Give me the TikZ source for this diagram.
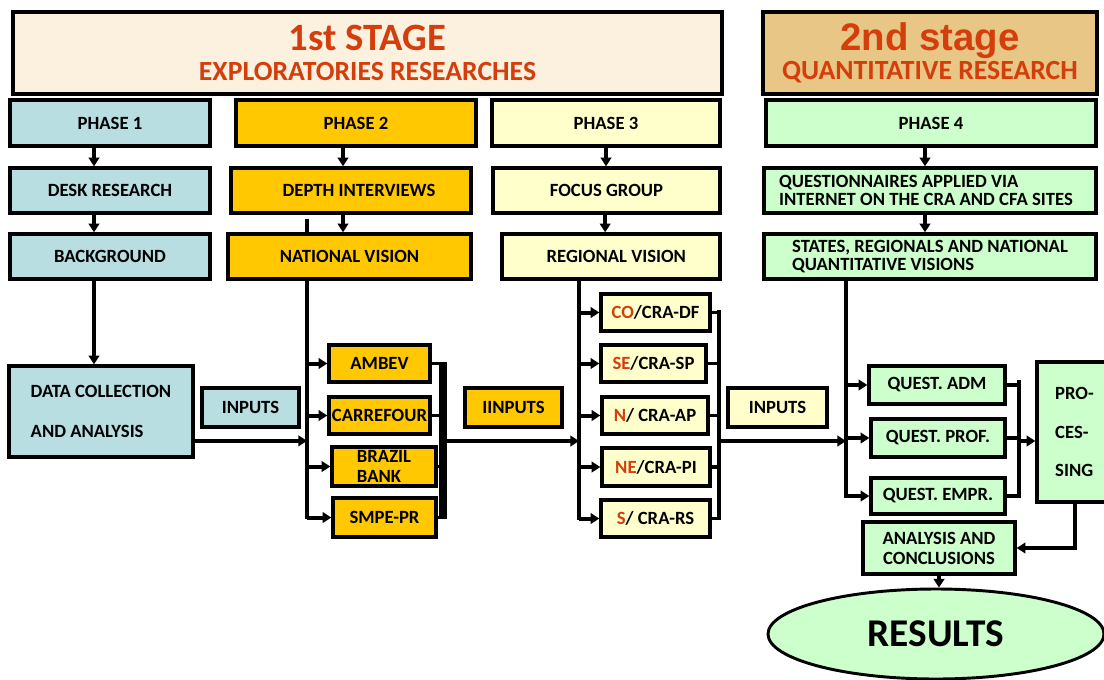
\documentclass[tikz,border=0pt]{standalone}
\usepackage{fontspec}
\setmainfont{Carlito}
\newfontfamily\arialfont{Liberation Sans}
\usetikzlibrary{positioning,arrows.meta,shapes.geometric,backgrounds}

\definecolor{phaseblue}{RGB}{184,222,226}
\definecolor{phaseorange}{RGB}{255,200,0}
\definecolor{phaseyellow}{RGB}{255,255,204}
\definecolor{phasegreen}{RGB}{204,255,204}
\definecolor{stagecream}{RGB}{252,241,222}
\definecolor{stagetan}{RGB}{232,198,134}
\definecolor{titlered}{RGB}{212,62,12}

\tikzset{
  box/.style={draw, line width=2.6pt, inner sep=2pt, align=center,
    font=\bfseries\fontsize{14}{15}\selectfont},
  stagebox/.style={draw, line width=3pt, align=center, text=titlered,
    font=\bfseries\fontsize{20.8}{22}\selectfont},
  link/.style={line width=3pt},
  thinlink/.style={line width=2.6pt},
  arr/.style={link, -{Triangle[length=6.5pt,width=8pt]}},
}

\begin{document}
\begin{tikzpicture}[x=0.75pt, y=-0.75pt]
  \useasboundingbox (0,0) rectangle (1104,679);

  % stages
  \node[stagebox, fill=stagecream, minimum width=531.75pt, minimum height=61.5pt] (st1) at (367.5,53)
    {{\fontsize{29}{22}\selectfont 1st STAGE}\\EXPLORATORIES RESEARCHES};
  \node[stagebox, fill=stagetan, minimum width=250.5pt, minimum height=61.5pt] (st2) at (930,53)
    {{\arialfont\fontsize{28.8}{22}\selectfont 2nd stage}\\QUANTITATIVE RESEARCH};

  % phases
  \node[box, fill=phaseblue,   minimum width=150pt,   minimum height=34.5pt] (ph1) at (110,123) {PHASE 1};
  \node[box, fill=phaseorange, minimum width=180pt,   minimum height=34.5pt] (ph2) at (356,123) {PHASE 2};
  \node[box, fill=phaseyellow, minimum width=171pt,   minimum height=34.5pt] (ph3) at (606,123) {PHASE 3};
  \node[box, fill=phasegreen,  minimum width=247.5pt, minimum height=34.5pt] (ph4) at (931,123) {PHASE 4};

  \node[box, fill=phaseblue,   minimum width=150pt,    minimum height=33.75pt] (desk) at (110,190.5) {DESK RESEARCH};
  \node[box, fill=phaseorange, minimum width=180pt,    minimum height=33.75pt] (depth) at (351,190.5) {\hspace*{12pt}DEPTH INTERVIEWS};
  \node[box, fill=phaseyellow, minimum width=170.25pt, minimum height=33.75pt] (focus) at (606.5,190.5) {FOCUS GROUP};
  \node[box, fill=phasegreen,  minimum width=249pt,    minimum height=33.75pt, align=left,
    font=\bfseries\fontsize{14}{13}\selectfont] (quest) at (930,190.5)
    {QUESTIONNAIRES APPLIED VIA\\INTERNET ON THE CRA AND CFA SITES\hspace*{6pt}};

  \node[box, fill=phaseblue,   minimum width=150pt,    minimum height=33.75pt] (backg) at (110,256.5) {BACKGROUND};
  \node[box, fill=phaseorange, minimum width=182.25pt, minimum height=33.75pt] (natvis) at (349.5,256.5) {NATIONAL VISION};
  \node[box, fill=phaseyellow, minimum width=163.5pt,  minimum height=33.75pt] (regvis) at (611,256.5) {\hspace*{8pt}REGIONAL VISION};
  \node[box, fill=phasegreen,  minimum width=249pt,    minimum height=33.75pt, align=left,
    font=\bfseries\fontsize{14}{13.5}\selectfont] (states) at (930,256.5)
    {STATES, REGIONALS AND NATIONAL\\QUANTITATIVE VISIONS};

  % phase 1
  \node[box, fill=phaseblue, minimum width=138pt, minimum height=68.25pt, align=left,
    font=\bfseries\fontsize{14}{30}\selectfont] (dc) at (101,411.5) {DATA COLLECTION\\AND ANALYSIS};
  \node[box, fill=phaseblue, minimum width=72.75pt, minimum height=29.25pt] (in1) at (250.5,407.5) {INPUTS};

  % phase 2
  \node[box, fill=phaseorange, minimum width=75.75pt, minimum height=27.75pt] (ambev) at (379.5,363.5) {AMBEV};
  \node[box, fill=phaseorange, minimum width=75.75pt, minimum height=27.75pt, inner sep=0pt] (carref) at (379.5,415.5) {CARREFOUR};
  \node[box, fill=phaseorange, minimum width=78pt, minimum height=29.25pt, align=left, inner sep=0pt] (brazil) at (384,466.5) {BRAZIL\\BANK};
  \node[box, fill=phaseorange, minimum width=77.25pt, minimum height=29.25pt] (smpe) at (384.5,517.5) {SMPE-PR};
  \node[box, fill=phaseorange, minimum width=72.75pt, minimum height=29.25pt] (in2) at (513.5,407.5) {IINPUTS};

  % phase 3
  \node[box, fill=phaseyellow, minimum width=81.75pt, minimum height=27.75pt] (co) at (655.5,312.5) {\textcolor{titlered}{CO}/CRA-DF};
  \node[box, fill=phaseyellow, minimum width=78.75pt, minimum height=27.75pt] (se) at (653.5,363.5) {\textcolor{titlered}{SE}/CRA-SP};
  \node[box, fill=phaseyellow, minimum width=79.5pt,  minimum height=27.75pt] (nn) at (655,415.5) {\textcolor{titlered}{N}/ CRA-AP};
  \node[box, fill=phaseyellow, minimum width=81pt,    minimum height=28.5pt] (ne) at (656,467) {\textcolor{titlered}{NE}/CRA-PI};
  \node[box, fill=phaseyellow, minimum width=81.75pt, minimum height=27.75pt] (ss) at (655.5,518.5) {\textcolor{titlered}{S}/ CRA-RS};
  \node[box, fill=phaseyellow, minimum width=74.25pt, minimum height=29.25pt] (in3) at (777.5,407.5) {INPUTS};

  % phase 4
  \node[box, fill=phasegreen, minimum width=102pt,   minimum height=28.5pt] (qadm) at (937,385) {QUEST. ADM};
  \node[box, fill=phasegreen, minimum width=100.5pt, minimum height=28.5pt] (qprof) at (938,438) {QUEST. PROF.};
  \node[box, fill=phasegreen, minimum width=100.5pt, minimum height=27pt] (qempr) at (938,496) {QUEST. EMPR.};
  \node[box, fill=phasegreen, minimum width=56.25pt, minimum height=105pt, align=left,
    font=\bfseries\fontsize{14}{29}\selectfont] (proc) at (1074.5,432) {PRO-\\CES-\\SING};
  \node[box, fill=phasegreen, minimum width=114pt, minimum height=39pt] (ana) at (939,548) {ANALYSIS AND\\CONCLUSIONS};
  \node[box, ellipse, fill=phasegreen, line width=2.2pt, inner sep=0pt, minimum width=252pt, minimum height=67.5pt,
    font=\bfseries\fontsize{29.5}{30}\selectfont] (res) at (936,634) {RESULTS};

  \coordinate (t2bot) at (307,519);
  \coordinate (bartop) at (443,362);
  \coordinate (barbot) at (443,519);
  \coordinate (barmid) at (443,441);
  \coordinate (t3bot) at (579,520);
  \coordinate (c3top) at (719,310);
  \coordinate (c3bot) at (719,520);
  \coordinate (c3mid) at (719,441);
  \coordinate (t4bot) at (846,498);
  \coordinate (c4top) at (1019,380);
  \coordinate (c4bot) at (1019,498);
  \coordinate (c4mid) at (1019,441);

  % down the columns
  \draw[arr] ([xshift=-12pt]ph1.south) -- ([xshift=-12pt]ph1.south |- desk.north);
  \draw[arr] ([xshift=-12pt]desk.south) -- ([xshift=-12pt]desk.south |- backg.north);
  \draw[arr] ([xshift=-12pt]backg.south) -- ([xshift=-12pt]backg.south |- dc.north);
  \draw[arr] ([xshift=-9.75pt]ph2.south) -- ([xshift=-9.75pt]ph2.south |- depth.north);
  \draw[arr] ([xshift=-6pt]depth.south) -- ([xshift=-6pt]depth.south |- natvis.north);
  \draw[arr] (ph3.south) -- (ph3.south |- focus.north);
  \draw[arr] ([xshift=-1pt]focus.south) -- ([xshift=-1pt]focus.south |- regvis.north);
  \draw[arr] ([xshift=-4.5pt]ph4.south) -- ([xshift=-4.5pt]ph4.south |- quest.north);
  \draw[arr] ([xshift=-3.75pt]quest.south) -- ([xshift=-3.75pt]quest.south |- states.north);

  % phase 2 branches
  \begin{scope}[on background layer]
    \draw[link] ([yshift=-3pt]depth.south -| t2bot) -- (t2bot);
  \end{scope}
  \draw[arr] ([yshift=-22pt]dc.east) -- ([yshift=-22pt]dc.east -| t2bot);
  \foreach \b in {ambev,carref,brazil,smpe}
    \draw[arr] (\b.west -| t2bot) -- (\b.west);
  \foreach \b in {ambev,carref,brazil,smpe}
    \draw[thinlink] (\b.east) -- (\b.east -| bartop);
  \draw[line width=6pt] (bartop) -- (barbot);
  \draw[arr] (barmid) -- (barmid -| t3bot);

  % phase 3 branches
  \draw[link] ([xshift=-24pt]regvis.south) -- (t3bot);
  \foreach \b in {co,se,nn,ne,ss}
    \draw[arr] (\b.west -| t3bot) -- (\b.west);
  \foreach \b in {co,se,nn,ne,ss}
    \draw[thinlink] (\b.east) -- (\b.east -| c3top);
  \draw[thinlink] (c3top) -- (c3bot);
  \draw[arr] (c3mid) -- (c3mid -| t4bot);

  % phase 4 branches
  \draw[link] ([xshift=-63pt]states.south) -- (t4bot);
  \foreach \b in {qadm,qprof,qempr}
    \draw[arr] (\b.west -| t4bot) -- (\b.west);
  \foreach \b in {qadm,qprof,qempr}
    \draw[thinlink] (\b.east) -- (\b.east -| c4top);
  \draw[thinlink] (c4top) -- (c4bot);
  \draw[arr] (c4mid) -- (c4mid -| proc.west);
  \draw[arr] (proc.south) |- (ana.east);
  \draw[arr] (ana.south) -- (ana.south |- res.north);
\end{tikzpicture}
\end{document}
